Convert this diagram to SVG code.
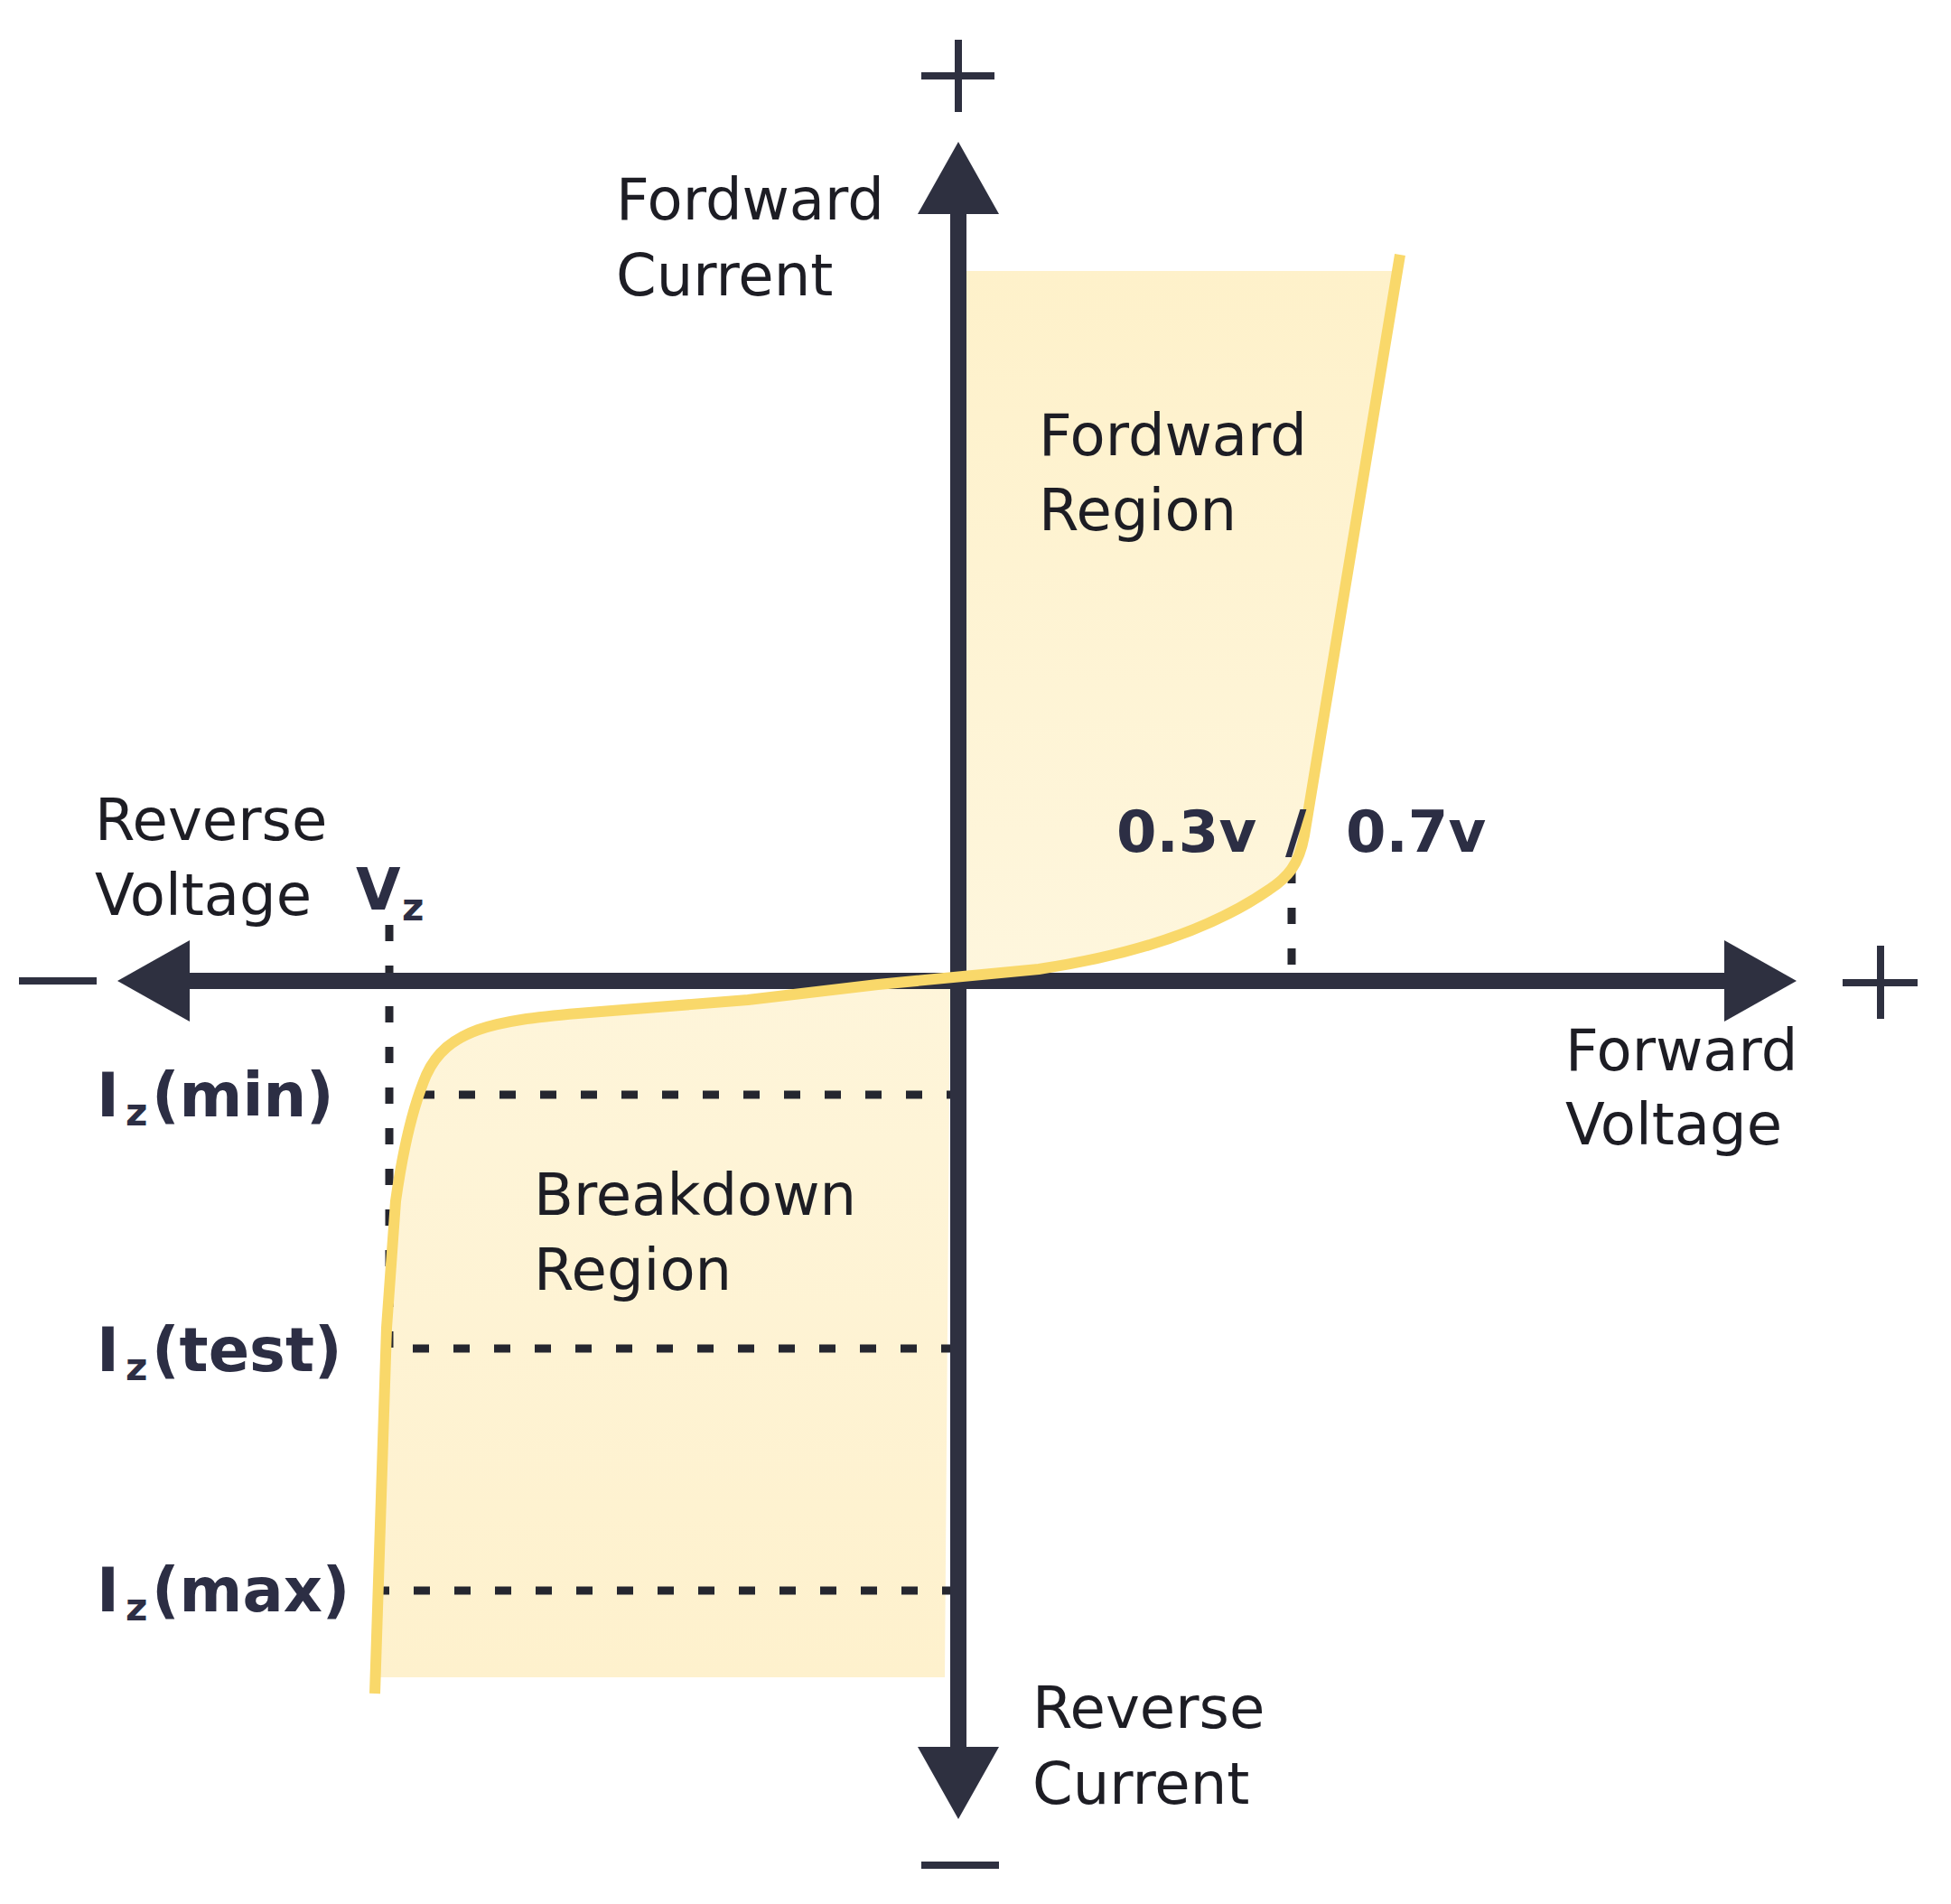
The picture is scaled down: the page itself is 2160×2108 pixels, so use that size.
<svg xmlns="http://www.w3.org/2000/svg" width="2160" height="2108" viewBox="0 0 2160 2108">
  <defs>
    <style>
      .lbl { font-family: "DejaVu Sans", "Liberation Sans", sans-serif; font-size: 64px; fill: #1d1d24; }
      .bld { font-family: "DejaVu Sans", "Liberation Sans", sans-serif; font-weight: bold; font-size: 64px; fill: #2c2e44; }
      .iz { font-size: 67px; }
      .sub { font-size: 42px; }
      .axis { stroke: #2e3040; stroke-width: 18; fill: none; }
      .sign { stroke: #2e3040; stroke-width: 8; fill: none; }
      .guide { stroke: #25262f; stroke-width: 9; stroke-dasharray: 18 27; fill: none; }
      .curve { stroke: #f9d86a; stroke-width: 12; fill: none; stroke-linejoin: round; }
    </style>
    <marker id="head" viewBox="0 -45 80 90" refX="0" refY="0" markerWidth="80" markerHeight="90" markerUnits="userSpaceOnUse" orient="auto-start-reverse">
      <path d="M0,-45 L80,0 L0,45 Z" fill="#2e3040"/>
    </marker>
    <linearGradient id="fillFwd" x1="0" y1="0" x2="0" y2="1">
      <stop offset="0" stop-color="#fef1ca"/>
      <stop offset="1" stop-color="#fef6dd"/>
    </linearGradient>
    <linearGradient id="fillBrk" x1="0" y1="0" x2="0" y2="1">
      <stop offset="0" stop-color="#fef5da"/>
      <stop offset="1" stop-color="#fef1cd"/>
    </linearGradient>
  </defs>

  <rect x="0" y="0" width="2160" height="2108" fill="#ffffff"/>

  <g id="forward-region">
    <path d="M1066,300 L1547,300 L1444,925 C1438,958 1425,972 1405,985 C1340,1030 1250,1058 1150,1073 L1066,1084 Z" fill="url(#fillFwd)"/>
  </g>
  <g id="breakdown-region">
    <path d="M1052,1084 L972,1090 L828,1107 L640,1122 C545,1130 495,1140 472,1190 C455,1230 445,1280 438,1330 L428,1470 L415,1857 L1046,1857 Z" fill="url(#fillBrk)"/>
  </g>

  <g id="guides">
    <path class="guide" d="M431,1024 L431,1493 L1052,1493"/>
    <path class="guide" d="M463,1212 L1061,1212"/>
    <path class="guide" d="M413,1761 L1058,1761"/>
    <path class="guide" d="M1430,960 L1430,1070"/>
  </g>

  <g id="connectors">
    <line class="axis" x1="210" y1="1086" x2="1909" y2="1086" marker-start="url(#head)" marker-end="url(#head)"/>
    <line class="axis" x1="1061" y1="1934" x2="1061" y2="237" marker-start="url(#head)" marker-end="url(#head)"/>
  </g>

  <g id="curve">
    <path class="curve" d="M1550,282 L1444,925 C1438,958 1425,972 1405,985 C1340,1030 1250,1058 1150,1073 L972,1090 L828,1107 L640,1122 C545,1130 495,1140 472,1190 C455,1230 445,1280 438,1330 L428,1470 L415,1875"/>
  </g>

  <g id="signs">
    <path class="sign" d="M1020,84 L1101,84 M1061,44 L1061,124"/>
    <path class="sign" d="M2040,1088 L2123,1088 M2082,1047 L2082,1128"/>
    <path class="sign" d="M21,1086 L107,1086"/>
    <path class="sign" d="M1020,2065 L1106,2065"/>
  </g>

  <g id="label-forward-current">
    <text class="lbl" x="682" y="243">Fordward</text>
    <text class="lbl" x="682" y="327">Current</text>
  </g>
  <g id="label-forward-region">
    <text class="lbl" x="1150" y="504">Fordward</text>
    <text class="lbl" x="1150" y="587">Region</text>
  </g>
  <g id="label-reverse-voltage">
    <text class="lbl" x="105" y="930">Reverse</text>
    <text class="lbl" x="105" y="1013">Voltage</text>
  </g>
  <g id="label-vz">
    <text class="bld" x="394" y="1007">V</text>
    <text class="bld sub" x="445" y="1019">z</text>
  </g>
  <g id="label-knee">
    <text class="bld" x="1236" y="943">0.3v</text>
    <text class="bld" x="1423" y="943">/</text>
    <text class="bld" x="1490" y="943">0.7v</text>
  </g>
  <g id="label-forward-voltage">
    <text class="lbl" x="1733" y="1185">Forward</text>
    <text class="lbl" x="1733" y="1267">Voltage</text>
  </g>
  <g id="label-breakdown-region">
    <text class="lbl" x="591" y="1345">Breakdown</text>
    <text class="lbl" x="591" y="1428">Region</text>
  </g>
  <g id="label-reverse-current">
    <text class="lbl" x="1143" y="1913">Reverse</text>
    <text class="lbl" x="1143" y="1997">Current</text>
  </g>
  <g id="label-iz-min">
    <text class="bld iz" x="107" y="1236">I<tspan class="sub" x="139" y="1246">z</tspan><tspan x="168" y="1236">(min)</tspan></text>
  </g>
  <g id="label-iz-test">
    <text class="bld iz" x="107" y="1518">I<tspan class="sub" x="139" y="1528">z</tspan><tspan x="168" y="1518">(test)</tspan></text>
  </g>
  <g id="label-iz-max">
    <text class="bld iz" x="107" y="1784">I<tspan class="sub" x="139" y="1794">z</tspan><tspan x="168" y="1784">(max)</tspan></text>
  </g>
</svg>
